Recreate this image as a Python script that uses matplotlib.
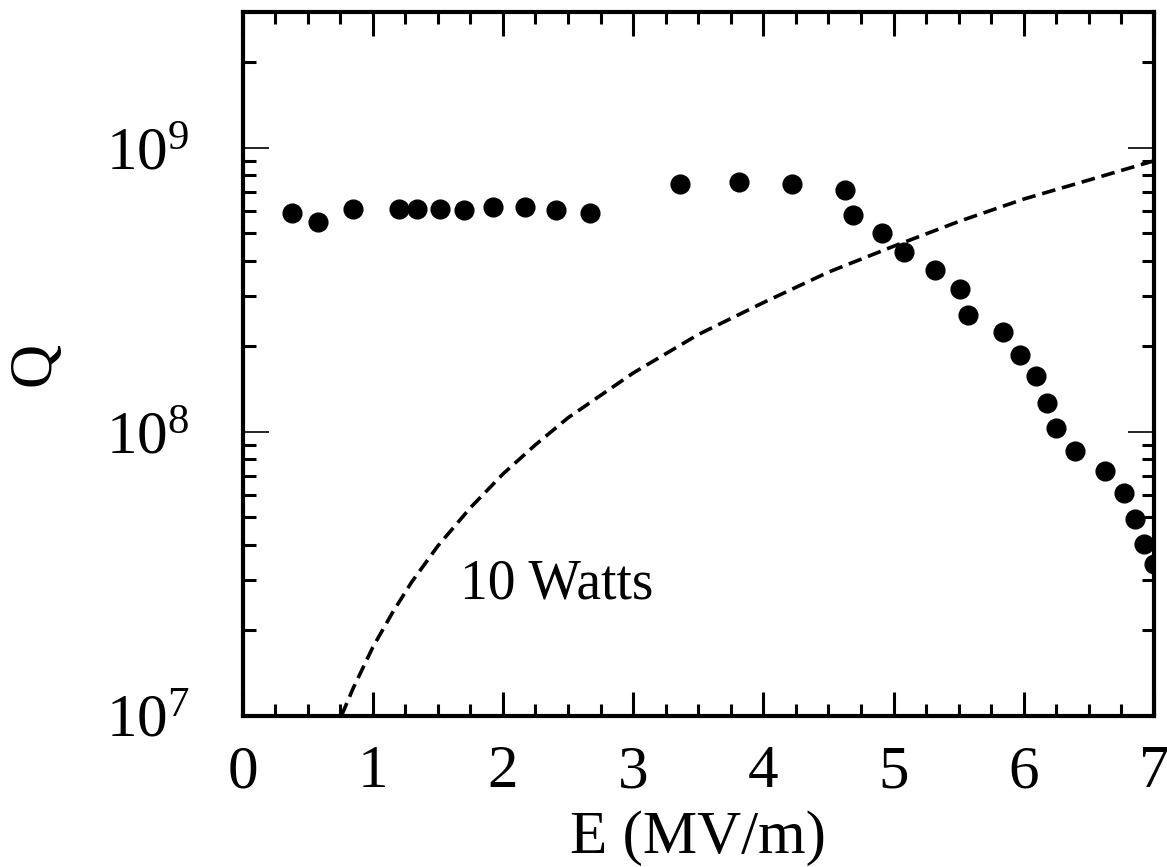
import math
import matplotlib
matplotlib.use('Agg')
import matplotlib.pyplot as plt
from matplotlib.ticker import LogLocator, MultipleLocator, FixedLocator, FuncFormatter

# measured Q vs accelerating field
e_field = [0.38, 0.58, 0.85, 1.20, 1.34, 1.52, 1.70, 1.92, 2.17, 2.41, 2.67,
           3.36, 3.81, 4.22, 4.63, 4.69, 4.91, 5.08, 5.32, 5.51, 5.57, 5.84,
           5.97, 6.09, 6.18, 6.25, 6.39, 6.62, 6.77, 6.85, 6.92, 7.00]
q_meas = [5.90e8, 5.49e8, 6.07e8, 6.07e8, 6.07e8, 6.07e8, 6.04e8, 6.17e8, 6.17e8, 6.04e8, 5.87e8,
          7.45e8, 7.59e8, 7.45e8, 7.10e8, 5.80e8, 5.02e8, 4.29e8, 3.71e8, 3.18e8, 2.57e8, 2.24e8,
          1.86e8, 1.57e8, 1.26e8, 1.03e8, 8.58e7, 7.27e7, 6.07e7, 4.93e7, 4.01e7, 3.41e7]

# 10 W dissipation line
e_10w = [0.76, 0.85, 1.0, 1.15, 1.3, 1.5, 1.75, 2.0, 2.25, 2.5, 3.0, 3.5,
         4.0, 4.5, 5.0, 5.5, 6.0, 6.5, 7.0]
q_10w = [1.0e7, 1.25e7, 1.74e7, 2.3e7, 2.96e7, 3.96e7, 5.4e7, 7.1e7, 9.0e7, 1.12e8, 1.61e8, 2.2e8,
         2.85e8, 3.65e8, 4.5e8, 5.5e8, 6.6e8, 7.7e8, 9.0e8]

plt.rcParams['font.family'] = ['Liberation Serif', 'DejaVu Serif']
plt.rcParams['mathtext.fontset'] = 'custom'
plt.rcParams['mathtext.rm'] = 'Liberation Serif'
plt.rcParams['mathtext.it'] = 'Liberation Serif'

fig = plt.figure(figsize=(11.67, 8.67), dpi=100, facecolor='white')
ax = fig.add_axes([0.2078, 0.1745, 0.9889 - 0.2078, 0.9858 - 0.1745])

ax.plot(e_field, q_meas, 'o', color='black', markersize=13.5, zorder=3)
ax.plot(e_10w, q_10w, color='black', linewidth=2.6, dashes=(3.8, 1.9))
ax.text(1.67, 2.59e7, '10 Watts', fontsize=40, ha='left', va='baseline')

ax.set_yscale('log')
ax.set_xlim(0, 7)
ax.set_ylim(1e7, 3e9)

ax.xaxis.set_major_locator(MultipleLocator(1))
ax.xaxis.set_minor_locator(MultipleLocator(0.25))
ax.yaxis.set_major_locator(FixedLocator([1e7, 1e8, 1e9]))
ax.yaxis.set_minor_locator(LogLocator(base=10, subs=range(2, 10)))
ax.yaxis.set_major_formatter(FuncFormatter(lambda v, p: r'$\mathregular{10^{%d}}$' % round(math.log10(v))))

for s in ax.spines.values():
    s.set_linewidth(3)

ax.tick_params(axis='both', which='both', direction='in', top=True, right=True, colors='black')
ax.tick_params(axis='x', which='major', length=17, width=2.2, labelsize=44, pad=21)
ax.tick_params(axis='x', which='minor', length=8.5, width=2.2)
ax.tick_params(axis='y', which='major', length=19, width=1.2, labelsize=44, pad=38)
ax.tick_params(axis='y', which='minor', length=9, width=2.2)

ax.set_xlabel('E (MV/m)', fontsize=44)
ax.xaxis.set_label_coords(0.5, -0.135)
ax.set_ylabel('Q', fontsize=44)
ax.yaxis.set_label_coords(-0.197, 0.5)

fig.savefig('out.png', dpi=100, facecolor='white')
